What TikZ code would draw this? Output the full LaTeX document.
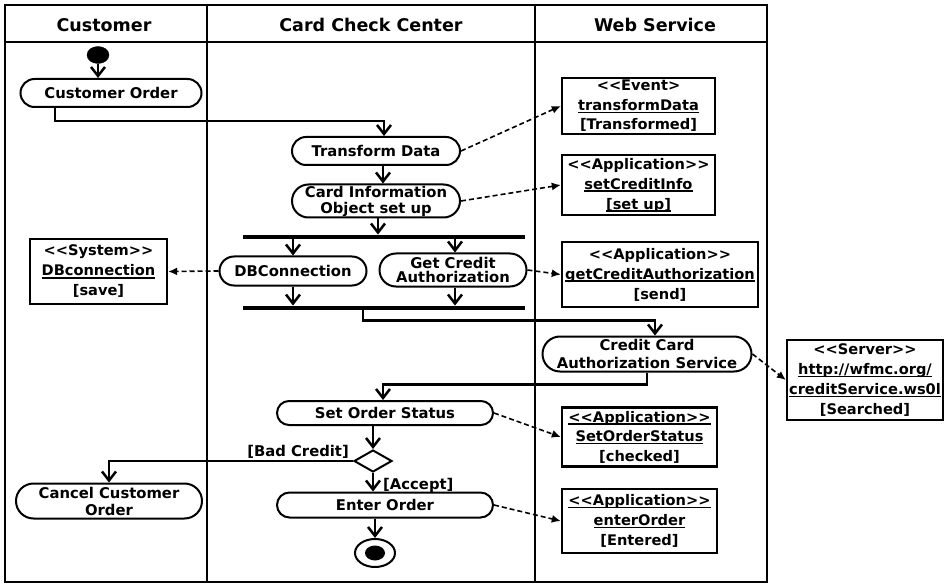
\documentclass[tikz,border=0pt]{standalone}
\usepackage{fontspec}
\setmainfont{DejaVu Sans}
\usetikzlibrary{arrows.meta,shapes.misc,shapes.geometric}

% heavy underline drawn under a word
\newsavebox\ulbox
\newcommand\ulin[1]{\sbox\ulbox{#1}\rlap{\rule[-2.6pt]{\wd\ulbox}{1.2pt}}\usebox\ulbox}
% stereotype brackets, kept apart so they do not merge into guillemets
\newcommand\lt{<{}<}
\newcommand\gt{>{}>}

\begin{document}
\begin{tikzpicture}[x=1pt,y=-1pt,
  every node/.style={font=\bfseries\fontsize{14.8}{17}\selectfont, inner sep=0pt},
  action/.style={draw, line width=2pt, shape=rounded rectangle, align=center},
  objbox/.style={draw, line width=2.4pt, align=center, font=\bfseries\fontsize{14.6}{20}\selectfont},
  bar/.style={fill, minimum height=4.5pt, minimum width=282pt},
  flow/.style={line width=2.5pt, -{Straight Barb[length=9pt,width=14pt]}},
  dep/.style={line width=1.6pt, dash pattern=on 5pt off 3pt, -{Latex[length=9pt,width=8pt]}},
  lane/.style={line width=2.4pt},
  head/.style={font=\bfseries\fontsize{17.5}{20}\selectfont}]

\useasboundingbox (0,0) rectangle (947,585);

% swimlanes
\draw[lane] (5,5) rectangle (767,582);
\draw[lane] (207,5) -- (207,582);
\draw[lane] (535,5) -- (535,582);
\draw[line width=1.7pt] (5,42) -- (767,42);
\node[head] (hcust) at (104,25) {Customer};
\node[head] (hccc) at (371,25) {Card Check Center};
\node[head] (hweb) at (655,25) {Web Service};

% activities
\node[draw, fill, ellipse, minimum width=22pt, minimum height=17pt] (start) at (98,55) {};
\node[action, minimum width=181pt, minimum height=28pt] (custorder) at (111,93) {Customer Order};
\node[action, minimum width=168pt, minimum height=28pt] (transform) at (376,151) {Transform Data};
\node[action, minimum width=168pt, minimum height=33pt, font=\bfseries\fontsize{14.8}{16}\selectfont] (cardinfo) at (376,201) {Card Information\\Object set up};
\node[bar] (fork) at (384,237) {};
\node[action, minimum width=147pt, minimum height=29pt] (dbconn) at (293,271) {DBConnection};
\node[action, minimum width=147pt, minimum height=33pt, font=\bfseries\fontsize{14.8}{13.5}\selectfont] (getcredit) at (453,270) {Get Credit\\Authorization};
\node[bar] (join) at (384,308) {};
\node[action, minimum width=209pt, minimum height=35pt, font=\bfseries\fontsize{14.8}{17.5}\selectfont] (ccas) at (647,354) {Credit Card\\Authorization Service};
\node[action, minimum width=216pt, minimum height=24pt] (setstatus) at (385,413) {Set Order Status};
\node[draw, diamond, line width=2pt, minimum width=38pt, minimum height=22pt] (decide) at (373,461) {};
\node[action, minimum width=186pt, minimum height=35pt] (cancel) at (109,501) {Cancel Customer\\Order};
\node[action, minimum width=216pt, minimum height=25pt] (enter) at (385,505) {Enter Order};
\node[draw, ellipse, line width=2pt, minimum width=40pt, minimum height=28pt] (final) at (375,553) {};
\node[fill, ellipse, minimum width=20pt, minimum height=15pt] (finaldot) at (final) {};

% guards
\node[anchor=east] (lbad) at (349,452) {[Bad Credit]};
\node[anchor=west] (lacc) at (383,485) {[Accept]};

% objects
\node[objbox, minimum width=137pt, minimum height=65pt] (sys) at (98.5,271.5) {\lt System\gt\\\ulin{DBconnection}\\{}[save]};
\node[objbox, minimum width=153pt, minimum height=56pt, font=\bfseries\fontsize{14.6}{19.5}\selectfont] (ev) at (638.5,106) {\lt Event>\\\ulin{transformData}\\{}[Transformed]};
\node[objbox, minimum width=153pt, minimum height=60pt] (setci) at (638.5,185) {\lt Application\gt\\\ulin{setCreditInfo}\\\ulin{[set up]}};
\node[objbox, minimum width=196pt, minimum height=65pt] (getca) at (660,274.5) {\lt Application\gt\\\ulin{getCreditAuthorization}\\{}[send]};
\node[objbox, minimum width=156pt, minimum height=80pt] (server) at (865,380) {\lt Server\gt\\\ulin{http://wfmc.org/}\\\ulin{creditService.ws0l}\\{}[Searched]};
\node[objbox, minimum width=155pt, minimum height=59pt, font=\bfseries\fontsize{14.6}{19.5}\selectfont] (sos) at (639.5,437) {\ulin{\lt Application\gt}\\\ulin{SetOrderStatus}\\{}[checked]};
\node[objbox, minimum width=155pt, minimum height=64pt] (eo) at (639.5,521) {\ulin{\lt Application\gt}\\\ulin{enterOrder}\\{}[Entered]};

% control flow
\draw[flow] (start.south) -- (start.south |- custorder.north);
\draw[flow] ([xshift=-56pt]custorder.south) -- ++(0,13) -| ([xshift=8pt]transform.north);
\draw[flow] ([xshift=7pt]transform.south) -- ([xshift=7pt]cardinfo.north);
\draw[flow] ([xshift=2pt]cardinfo.south) -- ([xshift=2pt]cardinfo.south |- fork.north);
\draw[flow] (dbconn.north |- fork.south) -- (dbconn.north);
\draw[flow] ([xshift=2pt]getcredit.north |- fork.south) -- ([xshift=2pt]getcredit.north);
\draw[flow] (dbconn.south) -- (dbconn.south |- join.north);
\draw[flow] ([xshift=2pt]getcredit.south) -- ([xshift=2pt]getcredit.south |- join.north);
\draw[flow] ([xshift=-21pt]join.south) -- ++(0,10) -| ([xshift=8pt]ccas.north);
\draw[flow] (ccas.south) -- ++(0,12) -| ([xshift=-2pt]setstatus.north);
\draw[flow] (decide.north |- setstatus.south) -- (decide.north);
\draw[flow] (decide.west) -| (cancel.north);
\draw[flow] (decide.south) -- (decide.south |- enter.north);
\draw[flow] (final.north |- enter.south) -- (final.north);

% object flows
\draw[dep] (transform.east) -- (ev.west);
\draw[dep] (cardinfo.east) -- (setci.west);
\draw[dep] (dbconn.west) -- (sys.east);
\draw[dep] (getcredit.east) -- (getca.west);
\draw[dep] (ccas.east) -- (server.west);
\draw[dep] (setstatus.east) -- (sos.west);
\draw[dep] (enter.east) -- (eo.west);
\end{tikzpicture}
\end{document}
